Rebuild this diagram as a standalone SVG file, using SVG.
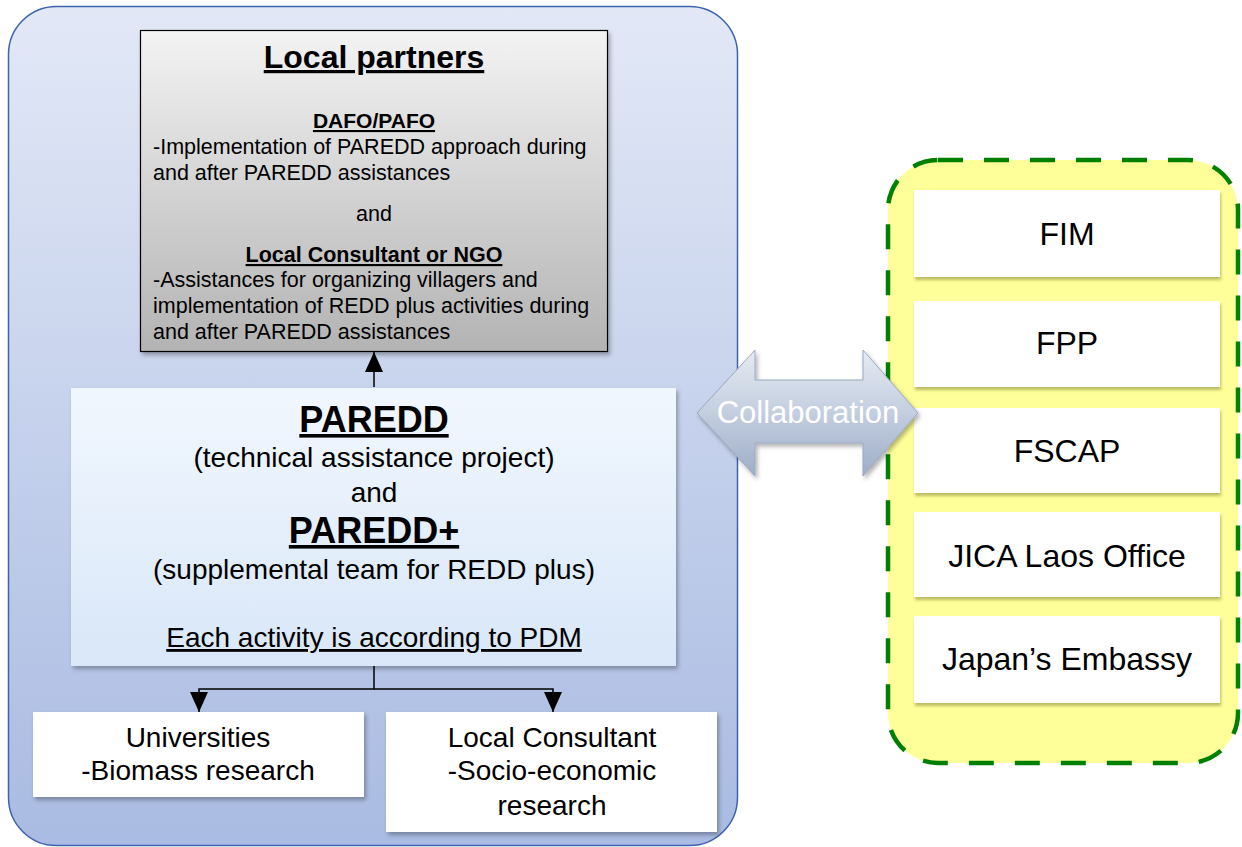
<svg xmlns="http://www.w3.org/2000/svg" width="1242" height="847" viewBox="0 0 1242 847">
  <style>
    text { font-family: "Liberation Sans", Arial, sans-serif; fill: #000; }
    .c { text-anchor: middle; }
    .u { text-decoration: underline; }
    .b { font-weight: bold; }
    .body { font-size: 21.5px; }
    .mid { font-size: 28px; }
    .big { font-size: 36px; font-weight: bold; }
    .org { font-size: 32px; text-anchor: middle; }
    .wbox { fill: #ffffff; }
    .conn { stroke: #000; stroke-width: 1.5; fill: none; }
  </style>
  <defs>
    <linearGradient id="gBlue" x1="0" y1="0" x2="0" y2="1">
      <stop offset="0" stop-color="#e2e8f6"/>
      <stop offset="1" stop-color="#a9bbe2"/>
    </linearGradient>
    <linearGradient id="gGray" x1="0" y1="0" x2="0" y2="1">
      <stop offset="0" stop-color="#f3f3f3"/>
      <stop offset="1" stop-color="#b3b3b3"/>
    </linearGradient>
    <linearGradient id="gPale" x1="0" y1="0" x2="0" y2="1">
      <stop offset="0" stop-color="#f1f7fe"/>
      <stop offset="1" stop-color="#d9e7f8"/>
    </linearGradient>
    <linearGradient id="gArrow" x1="0" y1="0" x2="0" y2="1">
      <stop offset="0" stop-color="#e6ebf3"/>
      <stop offset="0.5" stop-color="#c3cedf"/>
      <stop offset="1" stop-color="#9eadc8"/>
    </linearGradient>
    <filter id="shadow" x="-5%" y="-5%" width="115%" height="120%">
      <feDropShadow dx="2" dy="3" stdDeviation="2" flood-color="#000" flood-opacity="0.3"/>
    </filter>
    <filter id="shadowY" x="-5%" y="-5%" width="115%" height="130%">
      <feDropShadow dx="1" dy="3" stdDeviation="1.5" flood-color="#6b6b20" flood-opacity="0.45"/>
    </filter>
    <marker id="arr" viewBox="0 0 20 18" refX="20" refY="9" markerWidth="20" markerHeight="18" markerUnits="userSpaceOnUse" orient="auto">
      <path d="M0,0 L20,9 L0,18 Z" fill="#000"/>
    </marker>
  </defs>

  <!-- project container -->
  <g id="project-area">
    <rect x="8.5" y="6.5" width="729" height="839" rx="48" ry="48" fill="url(#gBlue)" stroke="#3d63b0" stroke-width="1.5"/>
  </g>

  <!-- partner organisations container -->
  <g id="partners-area">
    <rect x="888" y="160" width="350" height="603" rx="50" ry="50" fill="#ffff99" stroke="#008000" stroke-width="4.5" stroke-dasharray="25 21"/>
  </g>

  <g id="local-partners">
    <rect x="140.5" y="30.5" width="467" height="321" fill="url(#gGray)" stroke="#000" stroke-width="1.2" filter="url(#shadow)"/>
    <text x="374" y="68" class="c u b" font-size="32">Local partners</text>
    <text x="374" y="128" class="c u b" font-size="21">DAFO/PAFO</text>
    <text x="153" y="154" class="body">-Implementation of PAREDD approach during</text>
    <text x="153" y="180" class="body">and after PAREDD assistances</text>
    <text x="374" y="221" class="c body">and</text>
    <text x="374" y="262" class="c u b" font-size="21.5">Local Consultant or NGO</text>
    <text x="153" y="287" class="body">-Assistances for organizing villagers and</text>
    <text x="153" y="313" class="body">implementation of REDD plus activities during</text>
    <text x="153" y="339" class="body">and after PAREDD assistances</text>
  </g>

  <g id="paredd">
    <rect x="71" y="388" width="605" height="278" fill="url(#gPale)" filter="url(#shadow)"/>
    <text x="374" y="432" class="c u big">PAREDD</text>
    <text x="374" y="467" class="c mid">(technical assistance project)</text>
    <text x="374" y="502" class="c mid">and</text>
    <text x="374" y="543" class="c u big">PAREDD+</text>
    <text x="374" y="579" class="c mid">(supplemental team for REDD plus)</text>
    <text x="374" y="647" class="c u mid">Each activity is according to PDM</text>
  </g>

  <g id="universities">
    <rect x="33" y="712" width="331" height="85" class="wbox" filter="url(#shadow)"/>
    <text x="198" y="747" class="c mid">Universities</text>
    <text x="198" y="780" class="c mid">-Biomass research</text>
  </g>

  <g id="local-consultant">
    <rect x="386" y="712" width="331" height="120" class="wbox" filter="url(#shadow)"/>
    <text x="552" y="747" class="c mid">Local Consultant</text>
    <text x="552" y="780" class="c mid">-Socio-economic</text>
    <text x="552" y="815" class="c mid">research</text>
  </g>

  <g id="fim">
    <rect x="914" y="190" width="306" height="87" class="wbox" filter="url(#shadowY)"/>
    <text x="1067" y="245" class="org">FIM</text>
  </g>
  <g id="fpp">
    <rect x="914" y="301" width="306" height="86" class="wbox" filter="url(#shadowY)"/>
    <text x="1067" y="354" class="org">FPP</text>
  </g>
  <g id="fscap">
    <rect x="914" y="408" width="306" height="85" class="wbox" filter="url(#shadowY)"/>
    <text x="1067" y="462" class="org">FSCAP</text>
  </g>
  <g id="jica">
    <rect x="914" y="512" width="306" height="85" class="wbox" filter="url(#shadowY)"/>
    <text x="1067" y="567" class="org">JICA Laos Office</text>
  </g>
  <g id="embassy">
    <rect x="914" y="616" width="306" height="87" class="wbox" filter="url(#shadowY)"/>
    <text x="1067" y="670" class="org">Japan’s Embassy</text>
  </g>

  <!-- collaboration double arrow -->
  <g id="collaboration">
    <path d="M697,413 L755,350 L755,380 L863,380 L863,350 L918,413 L863,476 L863,443 L755,443 L755,476 Z" fill="url(#gArrow)" stroke="#9aa8bf" stroke-width="1" filter="url(#shadow)"/>
    <text x="808" y="423" class="c" font-size="31" style="fill:#ffffff">Collaboration</text>
  </g>

  <g id="connectors">
    <line x1="374" y1="387" x2="374" y2="352" class="conn" marker-end="url(#arr)"/>
    <polyline points="374,666 374,689 199,689 199,712" class="conn" marker-end="url(#arr)"/>
    <polyline points="374,689 553,689 553,712" class="conn" marker-end="url(#arr)"/>
  </g>
</svg>
